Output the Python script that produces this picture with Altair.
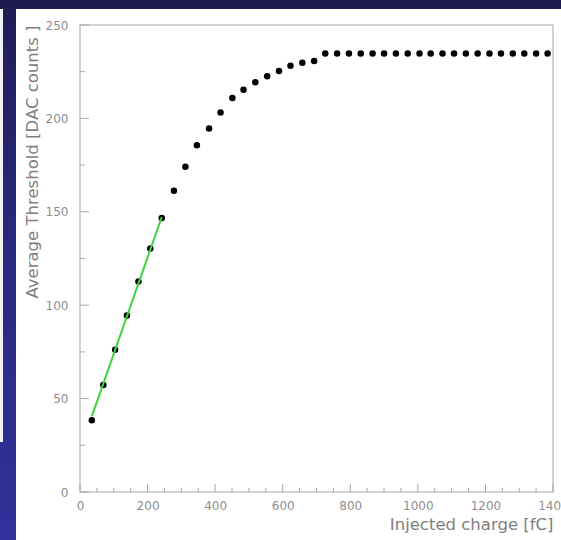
import altair as alt
import pandas as pd

# ---- data ----
charge = [35, 69, 104, 139, 173, 208, 242, 278, 312, 346, 382, 416, 451, 484,
          519, 554, 589, 623, 658, 693, 726, 761, 796, 831, 866, 900, 935, 970,
          1005, 1038, 1073, 1107, 1142, 1177, 1212, 1246, 1281, 1315, 1350, 1384]
threshold = [38.4, 57.3, 76.2, 94.5, 112.7, 130.3, 146.7, 161.3, 174.1, 185.6,
             194.6, 203.2, 210.9, 215.3, 219.3, 222.6, 225.4, 228.2, 229.8, 230.7,
             234.8, 234.8, 234.8, 234.8, 234.8, 234.8, 234.8, 234.8, 234.8, 234.8,
             234.8, 234.8, 234.8, 234.8, 234.8, 234.8, 234.8, 234.8, 234.8, 234.8]
fit_x = [35, 242]
fit_y = [40.5, 147.2]

x_major = [0, 200, 400, 600, 800, 1000, 1200, 1400]
x_minor = [v for v in range(0, 1401, 50) if v % 200 != 0]
y_major = [0, 50, 100, 150, 200, 250]
y_minor = [25, 75, 125, 175, 225]

W, H = 473, 467
FONT = "DejaVu Sans"
GRAY = "#8e8e8e"

xs = alt.Scale(domain=[0, 1400], nice=False, zero=False)
ys = alt.Scale(domain=[0, 250], nice=False, zero=False)

one = alt.Data(values=[{"a": 1}])

# decoration: dark top bar, left gradient strip, thin white strip, plot frame
topbar = alt.Chart(one).mark_rect(color="#1e1c4f").encode(
    x=alt.value(-80), x2=alt.value(W + 8), y=alt.value(-25), y2=alt.value(-16))

strip = alt.Chart(one).mark_rect(
    color=alt.LinearGradient(
        gradient="linear",
        stops=[alt.GradientStop(color="#1f1d56", offset=0),
               alt.GradientStop(color="#2a2a82", offset=0.5),
               alt.GradientStop(color="#31319a", offset=1)],
        x1=0, x2=0, y1=0, y2=1)
).encode(x=alt.value(-80), x2=alt.value(-64), y=alt.value(-16), y2=alt.value(H + 48))

thin = alt.Chart(one).mark_rect(color="#f2f2f6").encode(
    x=alt.value(-80), x2=alt.value(-77), y=alt.value(-16), y2=alt.value(417))

frame = alt.Chart(one).mark_rect(fillOpacity=0, stroke="#c4c4c4", strokeWidth=1.5).encode(
    x=alt.value(0), x2=alt.value(W), y=alt.value(0), y2=alt.value(H))

# ticks (inward), same field names as the data layers so the axes merge
def xticks(vals, length):
    return alt.Chart(pd.DataFrame({"x": vals})).mark_rule(color="#a8a8a8", strokeWidth=1).encode(
        x=alt.X("x:Q", scale=xs), y=alt.value(H), y2=alt.value(H - length))

def yticks(vals, length):
    return alt.Chart(pd.DataFrame({"y": vals})).mark_rule(color="#a8a8a8", strokeWidth=1).encode(
        y=alt.Y("y:Q", scale=ys), x=alt.value(0), x2=alt.value(length))

df = pd.DataFrame({"x": charge, "y": threshold})
points = alt.Chart(df).mark_circle(size=42, color="black", opacity=1).encode(
    x=alt.X("x:Q", scale=xs,
            axis=alt.Axis(values=x_major, format="d", domain=False, ticks=False, grid=False,
                          labelFont=FONT, labelFontSize=12, labelColor=GRAY,
                          labelPadding=8, labelFlush=False,
                          title="Injected charge [fC]", titleFont=FONT,
                          titleFontSize=16.5, titleFontWeight="normal",
                          titleColor="#808080", titleAnchor="end",
                          titlePadding=5)),
    y=alt.Y("y:Q", scale=ys,
            axis=alt.Axis(values=y_major, format="d", domain=False, ticks=False, grid=False,
                          labelFont=FONT, labelFontSize=12, labelColor=GRAY,
                          labelPadding=12, labelFlush=False,
                          title="Average Threshold [DAC counts ]", titleFont=FONT,
                          titleFontSize=16.5, titleFontWeight="normal",
                          titleColor="#808080", titleAnchor="end",
                          titlePadding=5)),
)

fit = alt.Chart(pd.DataFrame({"x": fit_x, "y": fit_y})).mark_line(
    color="#3ed23e", strokeWidth=2).encode(
    x=alt.X("x:Q", scale=xs), y=alt.Y("y:Q", scale=ys))

chart = alt.layer(
    points,
    topbar, strip, thin, frame,
    xticks(x_minor, 4), xticks(x_major, 8),
    yticks(y_minor, 5), yticks(y_major, 9),
    fit
).properties(
    width=W, height=H,
    autosize=alt.AutoSizeParams(type="none"),
    padding={"left": 80, "top": 25, "right": 8, "bottom": 48},
    background="white"
).configure_view(stroke=None)

chart.save("out.html", embed_options={"renderer": "svg", "actions": False})
